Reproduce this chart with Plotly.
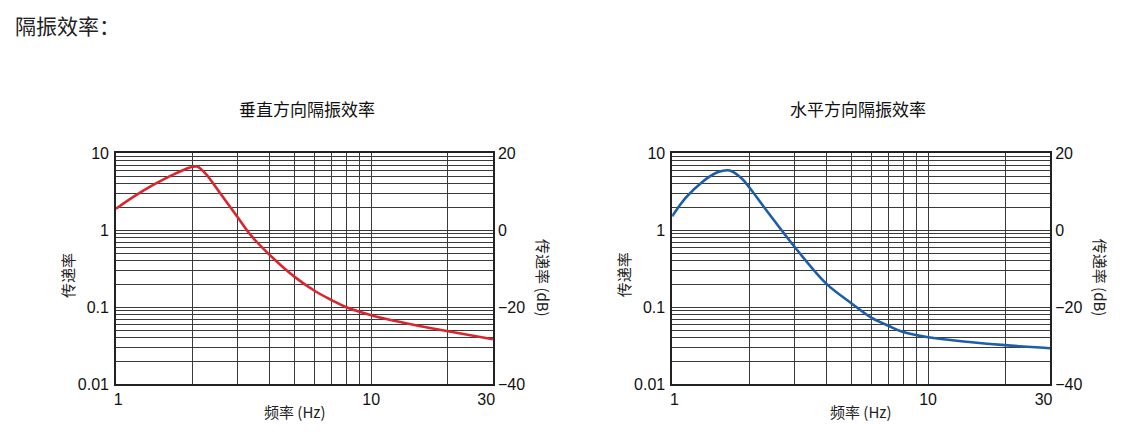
import numpy as np
import plotly.graph_objects as go

# 垂直方向 (vertical) transmissibility curve
freq_v = [1.0, 1.2, 1.4, 1.63, 1.85, 2.0, 2.08, 2.25, 2.53, 3.0, 3.39, 4.0, 5.0, 6.0, 7.0, 8.0, 10.0, 14.8, 20.0, 30.0]
trans_v = [1.9, 2.85, 3.87, 5.05, 6.1, 6.65, 6.7, 5.4, 3.2, 1.47, 0.85, 0.48, 0.25, 0.164, 0.124, 0.1, 0.079, 0.059, 0.049, 0.0385]

# 水平方向 (horizontal) transmissibility curve
freq_h = [1.0, 1.135, 1.315, 1.48, 1.6, 1.68, 1.87, 2.0, 2.37, 3.0, 4.0, 5.0, 6.0, 7.0, 8.0, 10.0, 14.5, 20.0, 30.0]
trans_h = [1.52, 2.69, 4.27, 5.54, 5.95, 5.95, 4.7, 3.62, 1.70, 0.616, 0.203, 0.114, 0.0734, 0.0576, 0.0477, 0.0408, 0.0355, 0.0323, 0.0295]

x_grid = [1, 2, 3, 4, 5, 6, 7, 8, 9, 10, 20, 30]
# edge labels nudged inwards like in the original print
x_labels = ["\u00a01", "", "", "", "", "", "", "", "", "10", "", "30\u00a0\u00a0\u00a0"]
y_grid = [m * 10.0 ** e for e in (-2, -1, 0) for m in range(1, 10)] + [10]
y_labels = ["0.01" if v == 0.01 else "0.1" if v == 0.1 else "1" if v == 1 else "10" if v == 10 else "" for v in y_grid]
db_ticks = [-40, -20, 0, 20]

titles = ["垂直方向隔振效率", "水平方向隔振效率"]
colors = ["#d8262f", "#1d5ea6"]

TICKFONT = dict(family="Liberation Sans, Arial", size=16, color="#111")
CJK = "Noto Sans CJK SC"

# the page body keeps its default 8px margin, so the figure fills the rest of the window
W, H, OFF = 1115, 418, 8

def px(x):
    return (x - OFF) / W

def py(y):
    return 1 - (y - OFF) / H

fig = go.Figure()
fig.add_trace(go.Scatter(x=freq_v, y=trans_v, mode="lines", line=dict(color=colors[0], width=2.6, shape="spline"),
                         xaxis="x", yaxis="y", showlegend=False))
fig.add_trace(go.Scatter(x=freq_h, y=trans_h, mode="lines", line=dict(color=colors[1], width=2.6, shape="spline"),
                         xaxis="x2", yaxis="y2", showlegend=False))
# dB copies on the right-hand axes (invisible, only there to carry the axes)
fig.add_trace(go.Scatter(x=freq_v, y=[20 * np.log10(t) for t in trans_v], mode="lines",
                         line=dict(color="rgba(0,0,0,0)"), xaxis="x", yaxis="y3", showlegend=False, hoverinfo="skip"))
fig.add_trace(go.Scatter(x=freq_h, y=[20 * np.log10(t) for t in trans_h], mode="lines",
                         line=dict(color="rgba(0,0,0,0)"), xaxis="x2", yaxis="y4", showlegend=False, hoverinfo="skip"))

doms_x = [[px(111), px(496)], [px(679), px(1065)]]
dom_y = [py(392), py(151)]
title_cx = [306, 869]
xlabel_cx = [294, 872]

def xax(dom, anchor):
    return dict(type="log", domain=dom, anchor=anchor, range=[0, np.log10(30)],
                tickmode="array", tickvals=x_grid, ticktext=x_labels, ticks="",
                showgrid=True, gridcolor="#3a3a3a", gridwidth=0.8, zeroline=False,
                showline=True, linecolor="#222", linewidth=1.5, mirror=True,
                tickfont=TICKFONT, ticklabelstandoff=0)

def yax(anchor):
    return dict(type="log", domain=dom_y, anchor=anchor, range=[-2, 1],
                tickmode="array", tickvals=y_grid, ticktext=y_labels, ticks="",
                showgrid=True, gridcolor="#3a3a3a", gridwidth=0.8, zeroline=False,
                showline=True, linecolor="#222", linewidth=1.5, mirror=True,
                tickfont=TICKFONT, ticklabelstandoff=2)

def dbax(over, anchor):
    return dict(overlaying=over, anchor=anchor, side="right", range=[-40, 20],
                tickmode="array", tickvals=db_ticks, ticks="", showgrid=False, zeroline=False,
                showline=False, tickfont=TICKFONT, ticklabelstandoff=4)

annotations = [dict(text="隔振效率：", x=px(6), y=py(17), xref="paper", yref="paper",
                    xanchor="left", yanchor="middle", showarrow=False,
                    font=dict(family=CJK, size=21, color="#222"))]
for i in range(2):
    x0, x1 = doms_x[i]
    annotations.append(dict(text=titles[i], x=px(title_cx[i]), y=py(104), xref="paper", yref="paper",
                            xanchor="center", yanchor="middle", showarrow=False,
                            font=dict(family=CJK, size=17, color="#111")))
    annotations.append(dict(text="频率 (Hz)", x=px(xlabel_cx[i]), y=py(420), xref="paper", yref="paper",
                            xanchor="center", yanchor="middle", showarrow=False,
                            font=dict(family=CJK, size=15, color="#222")))
    annotations.append(dict(text="传递率", x=x0 - 50 / W, y=py(278), xref="paper", yref="paper",
                            xanchor="center", yanchor="middle", showarrow=False, textangle=-90,
                            font=dict(family=CJK, size=15, color="#222")))
    annotations.append(dict(text="传递率 (dB)", x=x1 + 51 / W, y=py(281), xref="paper", yref="paper",
                            xanchor="center", yanchor="middle", showarrow=False, textangle=90,
                            font=dict(family=CJK, size=15, color="#222")))

fig.update_layout(
    width=W, height=H,
    margin=dict(l=0, r=0, t=0, b=0),
    paper_bgcolor="white", plot_bgcolor="white",
    xaxis=xax(doms_x[0], "y"), yaxis=yax("x"),
    xaxis2=xax(doms_x[1], "y2"), yaxis2=yax("x2"),
    yaxis3=dbax("y", "x"), yaxis4=dbax("y2", "x2"),
    annotations=annotations,
)

fig.write_html("out.html", config={"displayModeBar": False})
